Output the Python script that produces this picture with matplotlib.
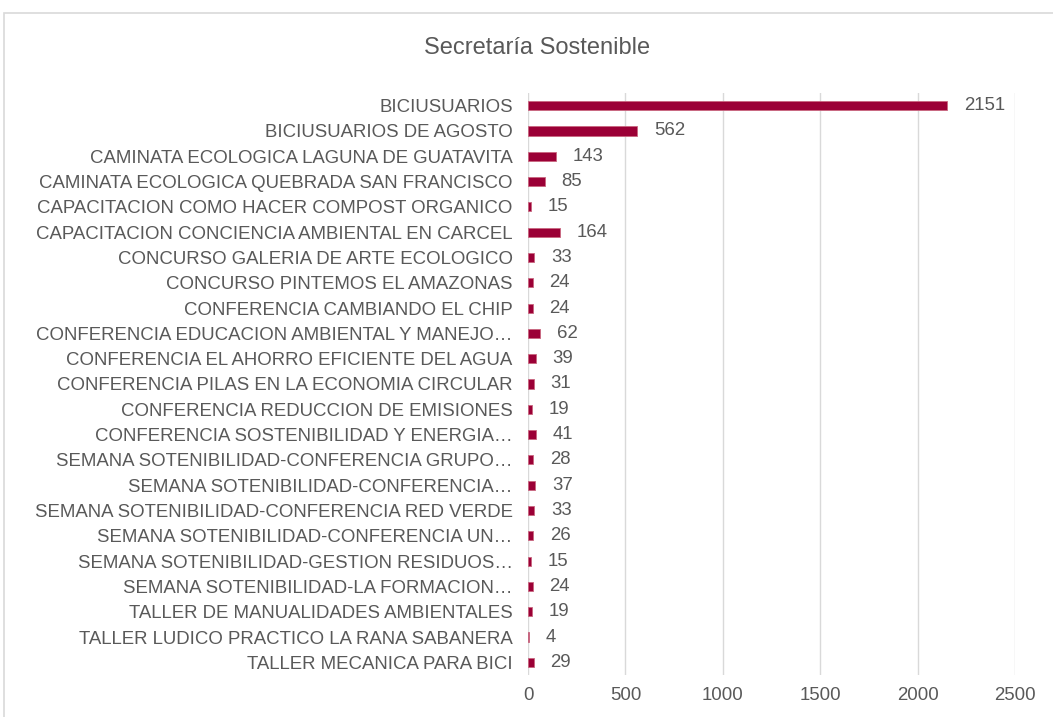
import matplotlib
matplotlib.use("Agg")
import matplotlib.pyplot as plt
from matplotlib.patches import Rectangle

categories = [
    "BICIUSUARIOS",
    "BICIUSUARIOS DE AGOSTO",
    "CAMINATA ECOLOGICA LAGUNA DE GUATAVITA",
    "CAMINATA ECOLOGICA QUEBRADA SAN FRANCISCO",
    "CAPACITACION COMO HACER COMPOST ORGANICO",
    "CAPACITACION CONCIENCIA AMBIENTAL EN CARCEL",
    "CONCURSO GALERIA DE ARTE ECOLOGICO",
    "CONCURSO PINTEMOS EL AMAZONAS",
    "CONFERENCIA CAMBIANDO EL CHIP",
    "CONFERENCIA EDUCACION AMBIENTAL Y MANEJO…",
    "CONFERENCIA EL AHORRO EFICIENTE DEL AGUA",
    "CONFERENCIA PILAS EN LA ECONOMIA CIRCULAR",
    "CONFERENCIA REDUCCION DE EMISIONES",
    "CONFERENCIA SOSTENIBILIDAD Y ENERGIA…",
    "SEMANA SOTENIBILIDAD-CONFERENCIA GRUPO…",
    "SEMANA SOTENIBILIDAD-CONFERENCIA…",
    "SEMANA SOTENIBILIDAD-CONFERENCIA RED VERDE",
    "SEMANA SOTENIBILIDAD-CONFERENCIA UN…",
    "SEMANA SOTENIBILIDAD-GESTION RESIDUOS…",
    "SEMANA SOTENIBILIDAD-LA FORMACION…",
    "TALLER DE MANUALIDADES AMBIENTALES",
    "TALLER LUDICO PRACTICO LA RANA SABANERA",
    "TALLER MECANICA PARA BICI",
]
values = [2151, 562, 143, 85, 15, 164, 33, 24, 24, 62, 39, 31, 19, 41,
          28, 37, 33, 26, 15, 24, 19, 4, 29]
x_ticks = [0, 500, 1000, 1500, 2000, 2500]
title = "Secretaría Sostenible"

bar_color = "#9B0036"
text_color = "#595959"
grid_color = "#D9D9D9"

plt.rcParams["font.family"] = ["Liberation Sans", "DejaVu Sans"]

W, H = 1053, 717
fig = plt.figure(figsize=(W / 100, H / 100), dpi=100)
ax = fig.add_axes([528 / W, 1 - 675 / H, (1015 - 528) / W, (675 - 93) / H])

fs = 13.4
ypos = list(range(len(categories)))
ax.barh(ypos, values, height=0.36, color=bar_color, edgecolor="#C9667F",
        linewidth=0.6, zorder=3)
ax.set_ylim(len(categories) - 0.5, -0.5)
ax.set_xlim(0, 2500)
ax.set_xticks(x_ticks)
ax.set_xticklabels([str(t) for t in x_ticks], fontsize=fs, color=text_color)
ax.set_yticks(ypos)
ax.set_yticklabels(categories, fontsize=fs, color=text_color)
ax.tick_params(axis="both", length=0)
ax.tick_params(axis="y", pad=11)
ax.tick_params(axis="x", pad=9)
for s in ax.spines.values():
    s.set_visible(False)
ax.grid(axis="x", color=grid_color, linewidth=1.0, zorder=0)
ax.set_axisbelow(True)

for y, v in zip(ypos, values):
    ax.annotate(str(v), xy=(v, y), xytext=(12, 0), textcoords="offset points",
                va="center", ha="left", fontsize=fs, color=text_color)

fig.text(537 / W, 1 - 48 / H, title, ha="center", va="center",
         fontsize=17, color=text_color)

fig.patches.append(Rectangle((4 / W, -0.05), 1.1, 1 - 13 / H + 0.05,
                             transform=fig.transFigure, fill=False,
                             edgecolor=grid_color, linewidth=1.2))

fig.savefig("out.png", dpi=100)
